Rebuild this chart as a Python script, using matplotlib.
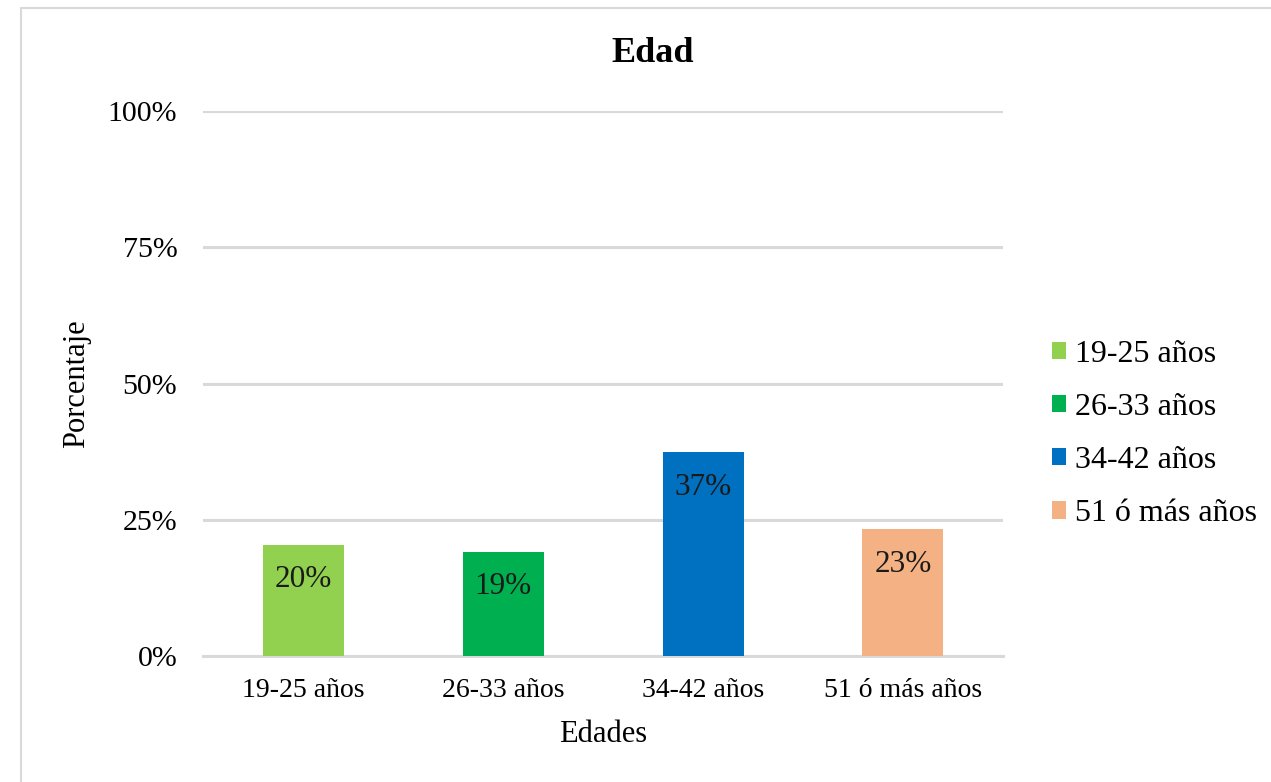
import matplotlib
matplotlib.use("Agg")
import matplotlib.pyplot as plt
from matplotlib.patches import Rectangle, Patch

plt.rcParams['font.family'] = ['Liberation Serif', 'DejaVu Serif']

categories = ["19-25 años", "26-33 años", "34-42 años", "51 ó más años"]
values = [20.4, 19.1, 37.4, 23.3]
labels = ["20%", "19%", "37%", "23%"]
colors = ["#92d050", "#00b050", "#0070c0", "#f4b183"]
yticks = [0, 25, 50, 75, 100]
ytick_labels = ["0%", "25%", "50%", "75%", "100%"]

fig = plt.figure(figsize=(12.71, 7.82), dpi=100)
fig.patches.append(Rectangle((21/1271, -0.01), 1.2, 1 - 8/782 + 0.01,
                             transform=fig.transFigure, fill=False,
                             edgecolor="#d9d9d9", linewidth=1.5))

ax = fig.add_axes([203/1271, 1 - 656/782, 800/1271, 545/782])
x = list(range(len(categories)))
bars = ax.bar(x, values, width=0.405, color=colors, zorder=3)
for b, lab in zip(bars, labels):
    ax.annotate(lab, (b.get_x() + b.get_width()/2, b.get_height()),
                xytext=(0, -35), textcoords="offset pixels",
                ha="center", va="center", fontsize=22.5, color="#1a1a1a", zorder=4)

ax.set_xlim(-0.5, 3.5)
ax.set_ylim(0, 100)
ax.set_yticks(yticks)
ax.set_yticklabels(ytick_labels, fontsize=21.5)
ax.set_xticks(x)
ax.set_xticklabels(categories, fontsize=20)
ax.yaxis.grid(True, color="#d9d9d9", linewidth=2.2, zorder=0)
ax.tick_params(length=0, pad=18.5, axis="y")
ax.tick_params(length=0, pad=16, axis="x")
for s in ["top", "right", "left"]:
    ax.spines[s].set_visible(False)
ax.spines["bottom"].set_color("#d9d9d9")
ax.spines["bottom"].set_linewidth(2.2)

fig.text(653/1271, 1 - 53/782, "Edad", fontsize=26, fontweight="bold",
         ha="center", va="center")
ax.set_xlabel("Edades", fontsize=22, labelpad=12)
ax.set_ylabel("Porcentaje", fontsize=22, labelpad=12)

handles = [Patch(facecolor=c, edgecolor="none") for c in colors]
fig.legend(handles, categories, loc="center left",
           bbox_to_anchor=(1052/1271, 1 - 434/782), frameon=False,
           fontsize=23, handlelength=0.45, handleheight=0.45,
           handletextpad=0.28, labelspacing=0.76,
           borderpad=0, borderaxespad=0)

fig.savefig("out.png", dpi=100, facecolor="white")
